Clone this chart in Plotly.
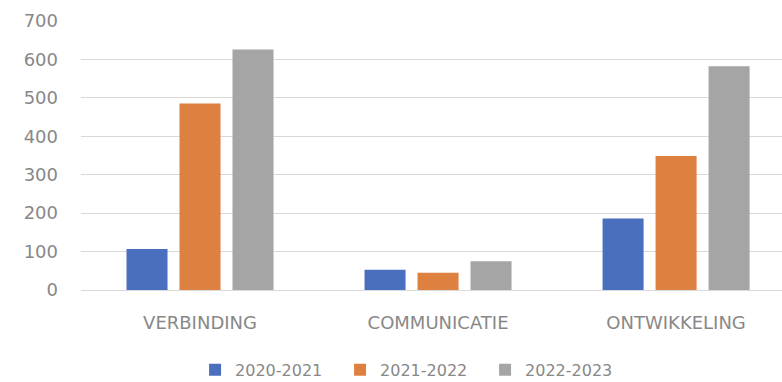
import plotly.graph_objects as go

categories = ["VERBINDING", "COMMUNICATIE", "ONTWIKKELING"]
series_names = ["2020-2021", "2021-2022", "2022-2023"]
values_2020_2021 = [107, 53, 186]
values_2021_2022 = [485, 45, 349]
values_2022_2023 = [626, 75, 582]
colors = ["#4A6FBF", "#DE8040", "#A5A5A5"]
y_ticks = [0, 100, 200, 300, 400, 500, 600, 700]

font_family = "'DejaVu Sans', sans-serif"
text_color = "#888888"

fig = go.Figure()
for name, vals, col in zip(series_names,
                           [values_2020_2021, values_2021_2022, values_2022_2023],
                           colors):
    fig.add_trace(go.Bar(x=categories, y=vals, name=name, marker_color=col,
                         marker_line_width=0))

fig.update_layout(
    width=782, height=382,
    margin=dict(l=81, r=0, t=21, b=91.5, pad=0, autoexpand=False),
    paper_bgcolor="white", plot_bgcolor="white",
    barmode="group", bargap=0.332, bargroupgap=0.226,
    font=dict(family=font_family, size=16, color=text_color),
    legend=dict(orientation="h", x=0.473, xanchor="center",
                yref="container", y=0.032, yanchor="middle",
                font=dict(size=16, color=text_color),
                itemwidth=30, entrywidth=100, entrywidthmode="pixels"),
    xaxis=dict(range=[-0.5, 2.445], showgrid=False, showline=False,
               ticks="", ticklabelstandoff=20, automargin=False,
               tickfont=dict(size=18, color=text_color)),
    yaxis=dict(range=[0, 700], tickvals=y_ticks, showgrid=True,
               gridcolor="#d9d9d9", gridwidth=1, zeroline=True,
               zerolinecolor="#d9d9d9", zerolinewidth=1, showline=False,
               ticks="", ticklabelstandoff=22, automargin=False,
               tickfont=dict(size=18, color=text_color)),
)

fig.write_html("out.html", config={"displayModeBar": False},
               post_script="document.body.style.margin='0';document.body.style.overflow='hidden';")
